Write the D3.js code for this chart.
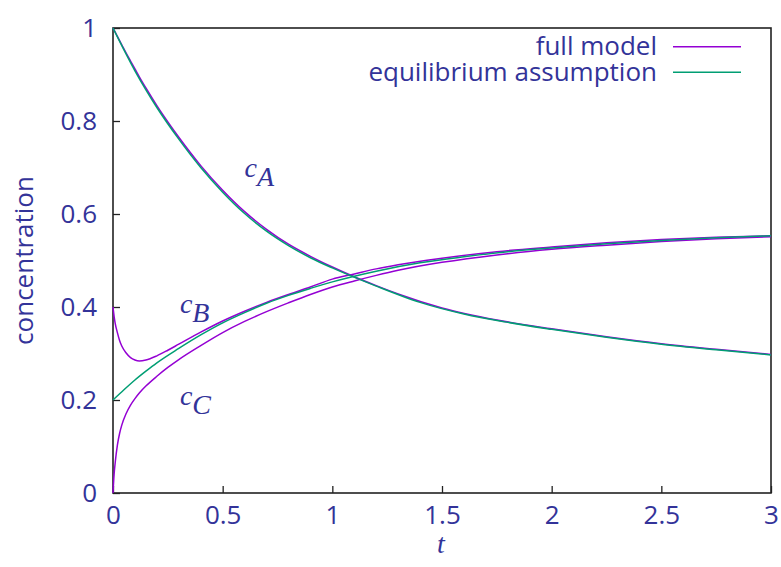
<!DOCTYPE html>
<html>
<head>
<meta charset="utf-8">
<script src="https://cdn.jsdelivr.net/npm/d3@7"></script>
<style>
  body { margin: 0; background: #fff; }
  svg { display: block; }
  .tick text { font-family: "Open Sans", sans-serif; font-size: 26px; fill: #333399; }
</style>
</head>
<body>
<div id="chart"></div>
<script>
// full model
const tFull = [0, 0.005, 0.01, 0.02, 0.03, 0.04, 0.06, 0.08, 0.1, 0.12, 0.15, 0.2, 0.25, 0.3, 0.4, 0.5, 0.6, 0.7, 0.8, 0.9, 1.0, 1.1, 1.2, 1.3, 1.5, 1.75, 2.0, 2.25, 2.5, 2.75, 3.0]
const aFull = [1.0, .9955, .991, .982, .973, .964, .946, .929, .912, .895, .871, .833, .798, .765, .704, .651, .605, .567, .535, .509, .486, .465, .446, .428, .398, .372, .353, .336, .321, .309, .298]
const bFull = [.40, .38, .365, .345, .328, .316, .301, .291, .286, .284, .286, .295, .307, .32, .346, .37, .391, .41, .427, .443, .46, .471, .482, .491, .505, .519, .529, .538, .545, .55, .553]
const cFull = [0, .04, .065, .103, .128, .146, .171, .189, .203, .215, .23, .251, .27, .287, .317, .345, .369, .39, .409, .427, .443, .456, .468, .479, .496, .512, .524, .533, .541, .547, .551]

// equilibrium assumption (c_B = c_C)
const tEq = [0, 0.05, 0.1, 0.15, 0.2, 0.3, 0.4, 0.5, 0.6, 0.7, 0.8, 0.9, 1.0, 1.2, 1.4, 1.6, 1.8, 2.0, 2.25, 2.5, 2.75, 3.0]
const aEq = [1.0, .953, .908, .867, .829, .761, .700, .647, .601, .563, .532, .506, .484, .445, .410, .385, .367, .352, .335, .320, .308, .297]
const bcEq = [.2, .222, .243, .262, .28, .311, .34, .366, .388, .408, .425, .44, .454, .477, .495, .508, .519, .527, .536, .543, .549, .553]

const xTicks = [0, 0.5, 1, 1.5, 2, 2.5, 3]
const yTicks = [0, 0.2, 0.4, 0.6, 0.8, 1]
const legendNames = ["full model", "equilibrium assumption"]
const curveLabels = [
  {sub: "A", t: 0.6, v: 0.68},
  {sub: "B", t: 0.305, v: 0.387},
  {sub: "C", t: 0.305, v: 0.189}
]

const W = 781, H = 567
const colFull = "#9400d3", colEq = "#009e73", txt = "#333399"
const sans = "'Open Sans', sans-serif", serif = "'Liberation Serif', serif"

const svg = d3.select("#chart").append("svg").attr("width", W).attr("height", H)
const x = d3.scaleLinear().domain([0, 3]).range([113, 771])
const y = d3.scaleLinear().domain([0, 1]).range([493, 28])

svg.append("g").attr("transform", "translate(0,493)")
  .call(d3.axisBottom(x).tickValues(xTicks).tickFormat(d3.format("~g"))
    .tickSizeInner(-7).tickSizeOuter(0).tickPadding(13))
svg.append("g").attr("transform", "translate(113,0)")
  .call(d3.axisLeft(y).tickValues(yTicks).tickFormat(d3.format("~g"))
    .tickSizeInner(-7).tickSizeOuter(0).tickPadding(16))
svg.selectAll(".domain").remove()
svg.selectAll(".tick line").attr("stroke", "#222").attr("stroke-width", 1.3)

// border
svg.append("rect").attr("x", 113).attr("y", 28).attr("width", 658).attr("height", 465)
  .attr("fill", "none").attr("stroke", "#222").attr("stroke-width", 1.6)

const line = d3.line().x(d => x(d[0])).y(d => y(d[1])).curve(d3.curveMonotoneX)
const zip = (ts, vs) => ts.map((t, i) => [t, vs[i]])

const curves = svg.append("g").attr("fill", "none").attr("stroke-width", 1.5)
;[aFull, bFull, cFull].forEach(vs => {
  curves.append("path").attr("d", line(zip(tFull, vs))).attr("stroke", colFull)
})
;[aEq, bcEq].forEach(vs => {
  curves.append("path").attr("d", line(zip(tEq, vs))).attr("stroke", colEq)
})

// legend
legendNames.forEach((n, i) => {
  const ly = 46.7 + i * 25.6
  svg.append("text").attr("x", 657).attr("y", ly + 8.3)
    .attr("text-anchor", "end").attr("fill", txt)
    .style("font-family", sans).style("font-size", "26px").text(n)
  svg.append("line").attr("x1", 673).attr("x2", 741).attr("y1", ly).attr("y2", ly)
    .attr("stroke", i ? colEq : colFull).attr("stroke-width", 1.5)
})

// curve labels
curveLabels.forEach(l => {
  const t = svg.append("text").attr("x", x(l.t)).attr("y", y(l.v)).attr("fill", txt)
    .style("font-family", serif).style("font-style", "italic").style("font-size", "28px")
  t.append("tspan").text("c")
  t.append("tspan").attr("dy", 9).text(l.sub)
})

// axis titles
svg.append("text").attr("x", 441).attr("y", 553).attr("text-anchor", "middle").attr("fill", txt)
  .style("font-family", serif).style("font-style", "italic").style("font-size", "28px").text("t")
svg.append("text").attr("transform", "translate(33,260.5) rotate(-90)").attr("text-anchor", "middle").attr("fill", txt)
  .style("font-family", sans).style("font-size", "26px").text("concentration")
</script>
</body>
</html>
